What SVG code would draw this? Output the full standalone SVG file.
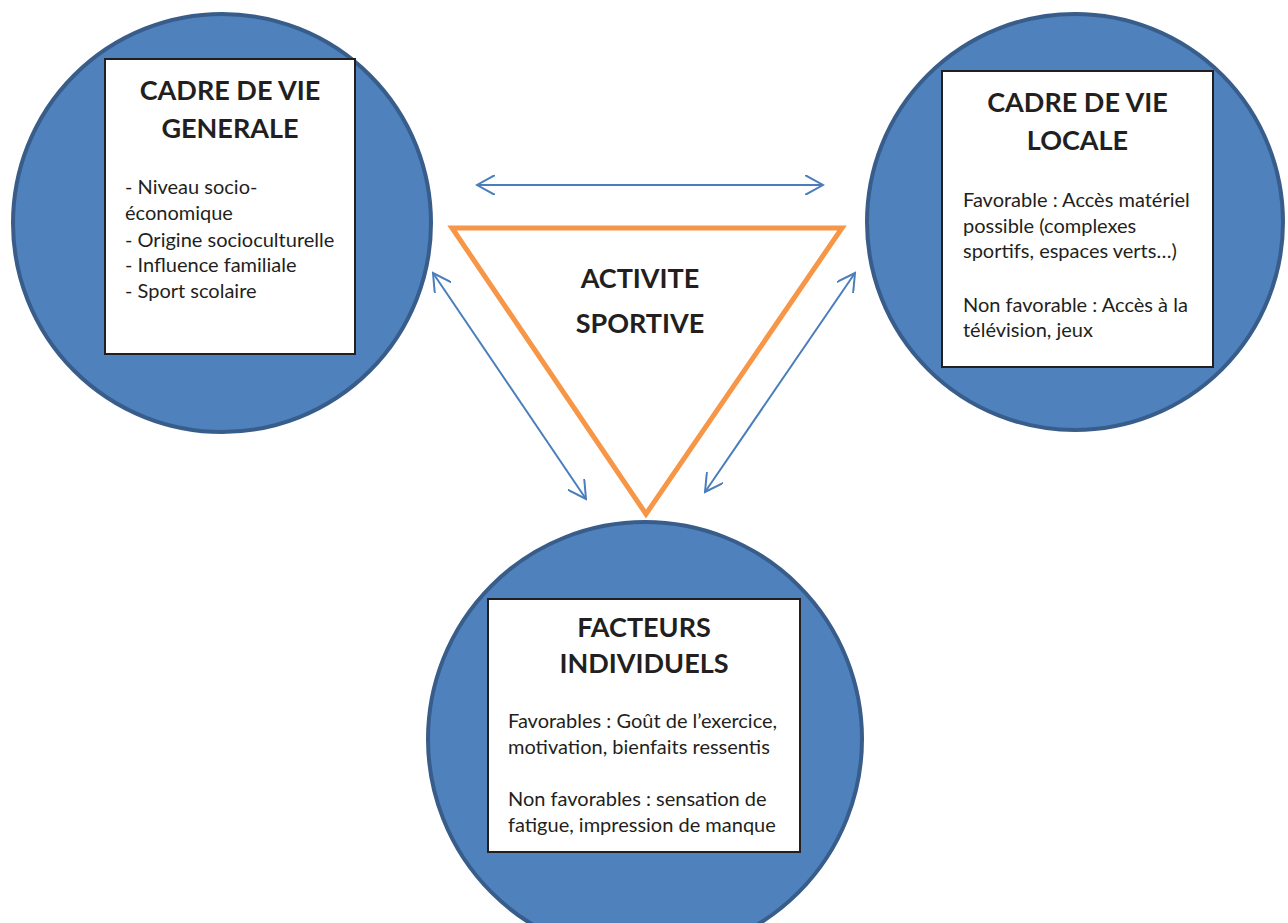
<svg xmlns="http://www.w3.org/2000/svg" width="1288" height="923" viewBox="0 0 1288 923">
<style>
.circ{fill:#4F81BD;stroke:#385D8A;stroke-width:4}
.box{fill:#FFFFFF;stroke:#231F20;stroke-width:2}
.title{font-family:Lato,"Liberation Sans",sans-serif;font-weight:bold;font-size:27px;fill:#231F20;text-anchor:middle}
.body{font-family:Lato,"Liberation Sans",sans-serif;font-size:20px;fill:#231F20}
.arr{stroke:#4A7EBB;stroke-width:2;fill:none;marker-start:url(#ah);marker-end:url(#ah)}
</style>
<defs>
<marker id="ah" viewBox="0 0 20 20" refX="18" refY="10" markerWidth="20" markerHeight="20" markerUnits="userSpaceOnUse" orient="auto-start-reverse">
<path d="M0,0 L18,10 L0,20" fill="none" stroke="#4A7EBB" stroke-width="2"/>
</marker>
</defs>
<rect width="1288" height="923" fill="#FFFFFF"/>
<g id="node-generale">
<circle class="circ" cx="222" cy="223" r="209"/>
<rect class="box" x="105" y="59" width="250" height="295"/>
<text class="title" x="230" y="100">CADRE DE VIE</text>
<text class="title" x="230" y="138">GENERALE</text>
<text class="body" x="125" y="194">- Niveau socio-</text>
<text class="body" x="125" y="220">économique</text>
<text class="body" x="125" y="247">- Origine socioculturelle</text>
<text class="body" x="125" y="272">- Influence familiale</text>
<text class="body" x="125" y="298">- Sport scolaire</text>
</g>
<g id="node-locale">
<circle class="circ" cx="1075" cy="222" r="208"/>
<rect class="box" x="942" y="71" width="271" height="296"/>
<text class="title" x="1077.5" y="112">CADRE DE VIE</text>
<text class="title" x="1077.5" y="150">LOCALE</text>
<text class="body" x="963" y="207">Favorable : Accès matériel</text>
<text class="body" x="963" y="233">possible (complexes</text>
<text class="body" x="963" y="258">sportifs, espaces verts…)</text>
<text class="body" x="963" y="312">Non favorable : Accès à la</text>
<text class="body" x="963" y="337">télévision, jeux</text>
</g>
<g id="node-individuels">
<circle class="circ" cx="645" cy="739" r="217"/>
<rect class="box" x="488" y="599" width="312" height="253"/>
<text class="title" x="644" y="637">FACTEURS</text>
<text class="title" x="644" y="673">INDIVIDUELS</text>
<text class="body" x="508" y="728">Favorables : Goût de l’exercice,</text>
<text class="body" x="508" y="754">motivation, bienfaits ressentis</text>
<text class="body" x="508" y="806">Non favorables : sensation de</text>
<text class="body" x="508" y="832">fatigue, impression de manque</text>
</g>
<g id="node-activite">
<polygon points="452,228 842,228 646,514" fill="#FFFFFF" stroke="#F79646" stroke-width="5"/>
<text class="title" x="640" y="288">ACTIVITE</text>
<text class="title" x="640" y="333">SPORTIVE</text>
</g>
<g id="connectors">
<line class="arr" x1="477" y1="185" x2="823" y2="185"/>
<line class="arr" x1="433" y1="273" x2="586" y2="499"/>
<line class="arr" x1="855" y1="273" x2="705" y2="492"/>
</g>
</svg>
